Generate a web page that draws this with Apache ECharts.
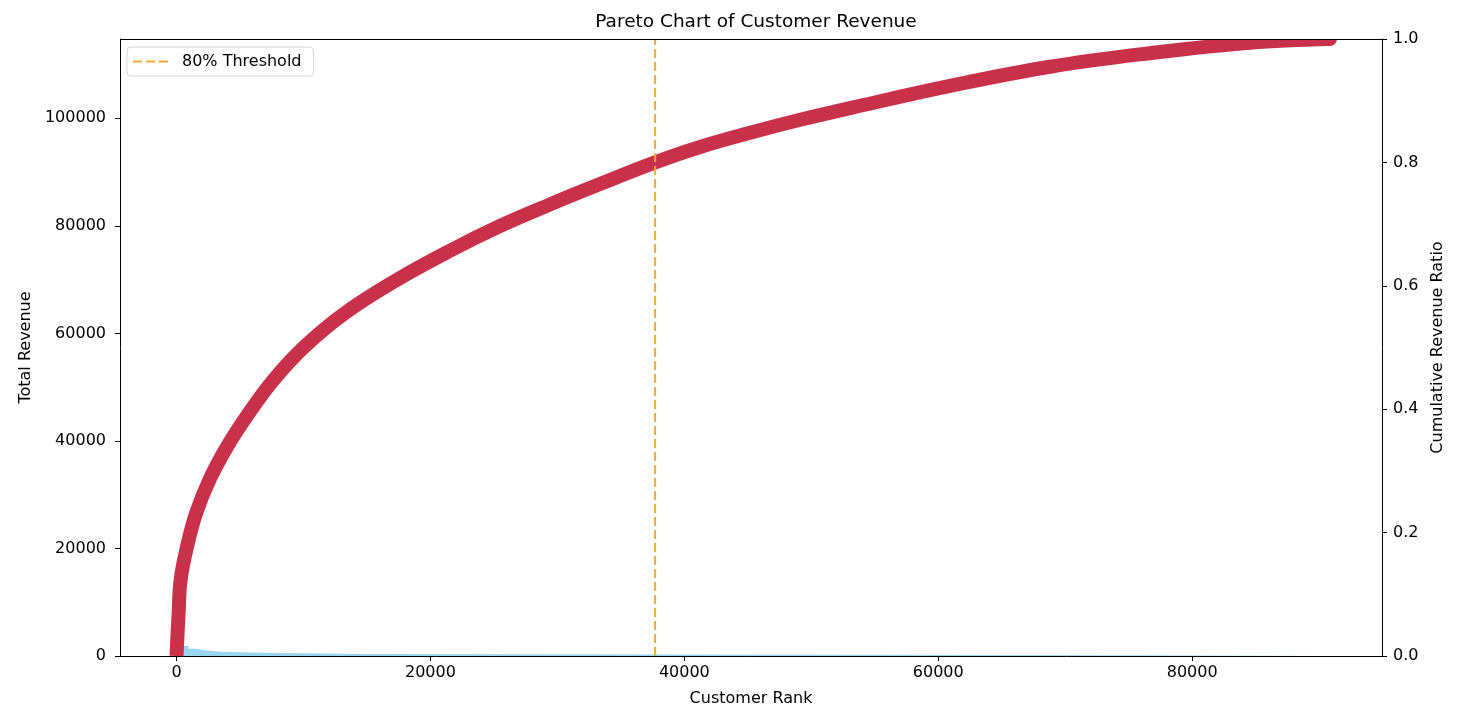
<!DOCTYPE html>
<html>
<head>
<meta charset="utf-8">
<title>Pareto Chart of Customer Revenue</title>
<script src="https://cdn.jsdelivr.net/npm/echarts@6/dist/echarts.min.js"></script>
<style>
  html, body { margin: 0; padding: 0; background: #fff; }
  #chart { width: 1458px; height: 726px; }
</style>
</head>
<body>
<div id="chart"></div>
<script>
// revenue per customer (rank -> revenue)
var revenueRank  = [0, 540, 950, 1560, 2200, 3500, 6600, 11300, 15000, 75300, 90400];
var revenueValue = [2600, 1860, 1360, 1060, 800, 620, 450, 380, 130, 0, 0];

// cumulative revenue ratio
var cumRank  = [0, 165, 323, 827, 1535, 2583, 3976, 5677, 7622, 10063, 13213, 17307,
                21559, 25496, 29433, 33370, 37701, 41244, 45181, 49118, 53055,
                60929, 68803, 76677, 84551, 90850];
var cumRatio = [0, 0.069, 0.123, 0.177, 0.231, 0.285, 0.339, 0.393, 0.447, 0.501, 0.555, 0.609,
                0.657, 0.697, 0.732, 0.765, 0.800, 0.825, 0.848, 0.869, 0.888,
                0.924, 0.955, 0.977, 0.994, 1.0];

var thresholdRank = 37700;

var xTicks = [0, 20000, 40000, 60000, 80000];
var yLeftTicks = [0, 20000, 40000, 60000, 80000, 100000];
var yRightTicks = [0, 0.2, 0.4, 0.6, 0.8, 1.0];

var FONT = 'DejaVu Sans';
var ORANGE = '#F5A834';
var RED = '#C9314A';

var chart = echarts.init(document.getElementById('chart'));

function pairs(xs, ys) {
    return xs.map(function (x, i) { return [x, ys[i]]; });
}
function plain(v) { return String(v); }

// cumulative curve: flat cut at the start, round marker at the last point
var cumData = pairs(cumRank, cumRatio);
cumData[cumData.length - 1] = {
    value: cumData[cumData.length - 1],
    symbol: 'circle',
    symbolSize: 14,
    itemStyle: { color: RED }
};

var tickStyle = { show: true, length: 5, inside: false, lineStyle: { color: '#000', width: 1 } };
var labelFont = { fontFamily: FONT, fontSize: 16, color: '#000' };

chart.setOption({
    animation: false,
    backgroundColor: '#fff',
    title: {
        text: 'Pareto Chart of Customer Revenue',
        left: 751,
        top: 8,
        textAlign: 'center',
        textStyle: { fontFamily: FONT, fontSize: 18.5, fontWeight: 'normal', color: '#000' }
    },
    legend: {
        left: 127,
        top: 47,
        data: [{
            name: '80% Threshold',
            // three short dashes, like the matplotlib legend handle
            icon: 'path://M0,0h9v2h-9z M13,0h9v2h-9z M26,0h9v2h-9z'
        }],
        itemWidth: 35,
        itemHeight: 2,
        itemGap: 0,
        padding: [6, 12, 6, 6],
        backgroundColor: '#fff',
        borderColor: '#d6d6d6',
        borderWidth: 1,
        borderRadius: 4,
        itemStyle: { color: ORANGE },
        textStyle: { fontFamily: FONT, fontSize: 16, color: '#000', padding: [0, 0, 0, 9], lineHeight: 17 }
    },
    grid: {
        left: 120,
        right: 76,
        top: 39,
        bottom: 70,
        show: false,
        containLabel: false
    },
    // the curve is clipped at the top spine in the original: mask above it, then draw the top spine
    graphic: [{
        type: 'rect',
        shape: { x: 1100, y: 18, width: 282, height: 21 },
        style: { fill: '#fff' },
        z: 100
    }, {
        type: 'rect',
        shape: { x: 120, y: 39, width: 1263, height: 1 },
        style: { fill: '#000' },
        z: 101
    }],
    xAxis: {
        type: 'value',
        min: -4450,
        max: 94950,
        name: 'Customer Rank',
        nameLocation: 'middle',
        nameGap: 35,
        nameTextStyle: labelFont,
        axisLine: { show: true, onZero: false, lineStyle: { color: '#000' } },
        axisTick: Object.assign({ customValues: xTicks }, tickStyle),
        axisLabel: Object.assign({ customValues: xTicks, margin: 9, formatter: plain }, labelFont),
        splitLine: { show: false }
    },
    yAxis: [{
        type: 'value',
        min: 0,
        max: 114750,
        position: 'left',
        name: 'Total Revenue',
        nameLocation: 'middle',
        nameGap: 82,
        nameTextStyle: labelFont,
        axisLine: { show: true, onZero: false, lineStyle: { color: '#000' } },
        axisTick: Object.assign({ customValues: yLeftTicks }, tickStyle),
        axisLabel: Object.assign({ customValues: yLeftTicks, margin: 14, formatter: plain }, labelFont),
        splitLine: { show: false }
    }, {
        type: 'value',
        min: 0,
        max: 1,
        position: 'right',
        name: 'Cumulative Revenue Ratio',
        nameLocation: 'middle',
        nameGap: 36,
        nameTextStyle: labelFont,
        axisLine: { show: true, onZero: false, lineStyle: { color: '#000' } },
        axisTick: Object.assign({ customValues: yRightTicks }, tickStyle),
        axisLabel: Object.assign({
            customValues: yRightTicks, margin: 11,
            formatter: function (v) { return v.toFixed(1); }
        }, labelFont),
        splitLine: { show: false }
    }],
    series: [{
        name: 'Total Revenue',
        type: 'line',
        yAxisIndex: 0,
        step: 'end',
        symbol: 'none',
        data: pairs(revenueRank, revenueValue),
        lineStyle: { width: 0 },
        areaStyle: { color: '#87CEEB', opacity: 0.85 },
        z: 1
    }, {
        name: 'Cumulative Ratio',
        type: 'line',
        yAxisIndex: 1,
        symbol: 'none',
        showSymbol: true,
        smooth: 0.4,
        clip: true,
        data: cumData,
        lineStyle: { color: RED, width: 14, cap: 'butt', join: 'round' },
        itemStyle: { color: RED },
        z: 3
    }, {
        name: '80% Threshold',
        type: 'line',
        yAxisIndex: 1,
        symbol: 'none',
        data: [[thresholdRank, 0], [thresholdRank, 1]],
        lineStyle: { color: ORANGE, width: 2, type: [9, 4] },
        itemStyle: { color: ORANGE },
        z: 4
    }]
});
</script>
</body>
</html>
